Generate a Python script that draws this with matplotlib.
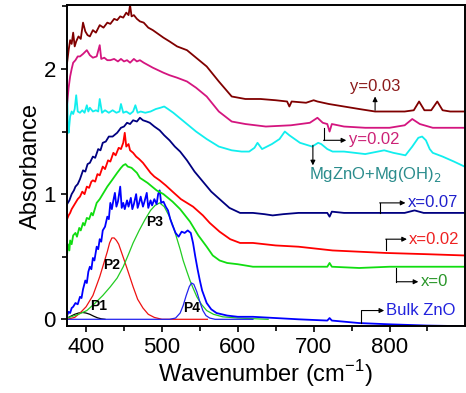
import matplotlib
matplotlib.use("Agg")
import matplotlib.pyplot as plt
from matplotlib.ticker import MultipleLocator

plt.rcParams['font.family'] = ['Liberation Sans', 'DejaVu Sans']

# ---- spectra (wavenumber, absorbance) ----
w_y003 = [375, 377, 379, 381, 383, 385, 387, 390, 393, 396, 399, 402, 405, 409, 413, 418, 423, 428, 432, 437,
          441, 445, 449, 453, 456, 458, 460, 463, 467, 471, 476, 482, 488, 495, 502, 510, 520, 533, 545, 559,
          575, 592, 610, 630, 650, 665, 668, 671, 690, 700, 705, 720, 740, 760, 781, 800, 820, 832, 839, 846,
          855, 863, 870, 880, 899]
a_y003 = [2.05, 2.15, 2.23, 2.20, 2.29, 2.18, 2.22, 2.26, 2.24, 2.37, 2.30, 2.27, 2.26, 2.31, 2.29, 2.35, 2.33, 2.37, 2.36, 2.40,
          2.39, 2.42, 2.41, 2.45, 2.43, 2.51, 2.42, 2.43, 2.40, 2.38, 2.37, 2.33, 2.31, 2.28, 2.25, 2.22, 2.18, 2.15, 2.09, 2.02,
          1.90, 1.78, 1.76, 1.76, 1.75, 1.74, 1.70, 1.74, 1.73, 1.75, 1.74, 1.72, 1.70, 1.68, 1.66, 1.66, 1.66, 1.67, 1.74, 1.67,
          1.67, 1.74, 1.67, 1.66, 1.66]

w_y002 = [375, 377, 379, 381, 383, 386, 389, 392, 396, 401, 405, 409, 414, 418, 420, 424, 428, 432, 437, 442,
          446, 450, 454, 458, 463, 467, 471, 476, 482, 488, 495, 502, 510, 520, 533, 545, 559, 575, 592, 610,
          637, 670, 695, 705, 712, 718, 721, 724, 740, 768, 800, 820, 830, 840, 857, 880, 899]
a_y002 = [1.72, 1.85, 1.94, 2.00, 2.05, 2.07, 2.10, 2.10, 2.12, 2.15, 2.11, 2.09, 2.10, 2.19, 2.08, 2.09, 2.07, 2.07, 2.08, 2.06,
          2.08, 2.06, 2.07, 2.05, 2.08, 2.06, 2.07, 2.05, 2.03, 2.01, 1.99, 1.97, 1.95, 1.93, 1.90, 1.85, 1.78, 1.66, 1.58, 1.56,
          1.54, 1.55, 1.57, 1.61, 1.57, 1.56, 1.50, 1.56, 1.54, 1.53, 1.53, 1.55, 1.60, 1.56, 1.53, 1.53, 1.53]

w_mg = [375, 376, 377, 379, 381, 383, 385, 387, 389, 392, 395, 398, 401, 403, 405, 409, 413, 416, 418, 421,
        425, 430, 435, 440, 444, 446, 449, 453, 458, 462, 465, 468, 472, 478, 485, 492, 498, 503, 508, 515,
        525, 535, 545, 559, 575, 592, 605, 615, 622, 626, 632, 645, 655, 662, 668, 682, 698, 706, 710, 718,
        725, 740, 768, 793, 805, 821, 830, 838, 843, 848, 853, 857, 870, 885, 899]
a_mg = [1.86, 1.55, 1.49, 1.62, 1.66, 1.64, 1.68, 1.79, 1.66, 1.65, 1.67, 1.65, 1.71, 1.66, 1.69, 1.66, 1.67, 1.66, 1.76, 1.65,
        1.67, 1.65, 1.67, 1.65, 1.66, 1.72, 1.65, 1.66, 1.64, 1.66, 1.71, 1.65, 1.66, 1.65, 1.66, 1.68, 1.69, 1.70, 1.68, 1.65,
        1.60, 1.55, 1.50, 1.44, 1.38, 1.35, 1.34, 1.34, 1.37, 1.41, 1.36, 1.40, 1.44, 1.50, 1.47, 1.41, 1.38, 1.41, 1.40, 1.36,
        1.34, 1.34, 1.32, 1.35, 1.33, 1.31, 1.38, 1.45, 1.46, 1.43, 1.36, 1.33, 1.30, 1.26, 1.22]

w_x007 = [375, 378, 381, 384, 386, 389, 392, 396, 399, 402, 405, 409, 412, 416, 419, 422, 426, 430, 435, 441,
          446, 450, 454, 458, 462, 467, 471, 475, 480, 484, 490, 497, 503, 510, 517, 524, 533, 543, 554, 565,
          576, 589, 603, 620, 635, 646, 660, 680, 700, 718, 721, 724, 740, 780, 820, 833, 845, 899]
a_x007 = [0.92, 0.95, 1.00, 1.03, 1.06, 1.08, 1.12, 1.19, 1.18, 1.24, 1.25, 1.30, 1.29, 1.36, 1.35, 1.41, 1.42, 1.46, 1.46, 1.49,
          1.53, 1.54, 1.57, 1.56, 1.59, 1.58, 1.61, 1.59, 1.58, 1.57, 1.54, 1.51, 1.47, 1.43, 1.38, 1.34, 1.27, 1.18, 1.10, 1.02,
          0.96, 0.89, 0.85, 0.85, 0.84, 0.83, 0.84, 0.85, 0.85, 0.85, 0.82, 0.86, 0.85, 0.85, 0.85, 0.87, 0.85, 0.85]

w_x002 = [375, 377, 379, 381, 383, 386, 389, 392, 395, 398, 401, 404, 407, 409, 412, 415, 418, 422, 425, 429,
          432, 436, 439, 443, 446, 449, 451, 453, 456, 458, 462, 466, 470, 475, 480, 485, 490, 497, 505, 514,
          525, 541, 554, 563, 576, 590, 603, 620, 650, 680, 725, 760, 795, 850, 899]
a_x002 = [0.80, 0.83, 0.85, 0.88, 0.90, 0.93, 0.96, 0.98, 1.02, 1.00, 1.06, 1.05, 1.10, 1.11, 1.10, 1.16, 1.15, 1.22, 1.20, 1.27,
          1.26, 1.33, 1.31, 1.37, 1.36, 1.41, 1.49, 1.38, 1.40, 1.35, 1.33, 1.30, 1.28, 1.25, 1.21, 1.17, 1.14, 1.11, 1.07, 1.02,
          0.96, 0.90, 0.83, 0.77, 0.70, 0.64, 0.61, 0.61, 0.59, 0.58, 0.55, 0.54, 0.53, 0.52, 0.51]

w_x0 = [375, 376, 378, 379, 381, 383, 386, 388, 391, 393, 396, 398, 401, 404, 407, 409, 412, 414, 418, 422,
        428, 434, 441, 446, 449, 452, 455, 460, 467, 471, 481, 493, 502, 514, 524, 537, 548, 559, 567, 576,
        586, 600, 620, 650, 700, 718, 721, 724, 760, 800, 850, 899]
a_x0 = [0.52, 0.60, 0.55, 0.63, 0.60, 0.67, 0.69, 0.66, 0.73, 0.71, 0.77, 0.75, 0.81, 0.80, 0.85, 0.83, 0.89, 0.93, 0.96, 1.00,
        1.06, 1.11, 1.17, 1.21, 1.23, 1.24, 1.22, 1.21, 1.17, 1.13, 1.09, 1.03, 1.00, 0.94, 0.88, 0.78, 0.67, 0.58, 0.51, 0.47,
        0.45, 0.44, 0.42, 0.42, 0.42, 0.42, 0.45, 0.42, 0.41, 0.42, 0.42, 0.42]

w_bulk = [375, 377, 379, 381, 383, 386, 389, 392, 394, 396, 399, 401, 403, 405, 407, 409, 411, 414, 416, 418,
          420, 422, 425, 428, 430, 432, 434, 436, 438, 440, 442, 445, 447, 449, 451, 454, 456, 459, 461, 463,
          466, 468, 470, 472, 475, 477, 480, 482, 485, 487, 490, 493, 495, 497, 499, 502, 505, 508, 511, 514,
          518, 522, 526, 530, 534, 538, 541, 544, 547, 550, 553, 559, 565, 572, 586, 600, 620, 650, 680, 718,
          721, 724, 760, 800, 850, 899]
a_bulk = [0.03, 0.06, 0.05, 0.09, 0.10, 0.13, 0.12, 0.18, 0.17, 0.24, 0.31, 0.29, 0.38, 0.42, 0.40, 0.49, 0.47, 0.58, 0.56, 0.64,
          0.62, 0.71, 0.74, 0.82, 0.80, 0.93, 0.88, 0.95, 1.01, 0.90, 0.94, 1.06, 0.89, 0.93, 0.88, 0.95, 0.90, 0.97, 0.88, 0.92,
          1.00, 0.89, 0.93, 0.98, 0.90, 0.94, 1.01, 0.89, 0.95, 0.91, 0.96, 0.92, 1.00, 1.03, 0.93, 0.94, 0.90, 0.87, 0.80, 0.75,
          0.69, 0.66, 0.70, 0.69, 0.71, 0.69, 0.61, 0.50, 0.40, 0.31, 0.23, 0.13, 0.08, 0.05, 0.03, 0.02, 0.02, 0.01, 0.00, -0.01,
          0.01, -0.01, -0.03, -0.04, -0.05, -0.055]

# ---- fitted peaks of bulk ZnO ----
w_p1 = [375, 380, 385, 390, 395, 400, 405, 410, 415, 420, 425]
a_p1 = [0.01, 0.025, 0.04, 0.05, 0.055, 0.05, 0.04, 0.025, 0.012, 0.004, 0.0]

w_p2 = [375, 385, 392, 400, 409, 418, 424, 428, 431, 434, 437, 440, 443, 447, 451, 456, 462, 468, 475, 482, 490, 500, 560]
a_p2 = [0.0, 0.015, 0.05, 0.10, 0.19, 0.34, 0.46, 0.54, 0.61, 0.65, 0.65, 0.63, 0.60, 0.53, 0.46, 0.37, 0.26, 0.16, 0.09, 0.04,
        0.015, 0.0, 0.0]

w_p3 = [375, 390, 401, 412, 422, 432, 441, 449, 456, 462, 470, 478, 485, 491, 497, 503, 510, 515, 519, 524,
        528, 533, 537, 541, 546, 552, 559, 568, 580, 600, 640]
a_p3 = [0.01, 0.04, 0.07, 0.13, 0.19, 0.26, 0.33, 0.42, 0.52, 0.61, 0.71, 0.80, 0.87, 0.91, 0.93, 0.90, 0.82, 0.74, 0.66, 0.56,
        0.47, 0.38, 0.31, 0.25, 0.18, 0.12, 0.07, 0.04, 0.02, 0.01, 0.0]

w_p4 = [375, 510, 518, 524, 528, 532, 536, 539, 542, 546, 550, 554, 558, 563, 570, 620]
a_p4 = [0.0, 0.0, 0.01, 0.05, 0.11, 0.19, 0.26, 0.29, 0.28, 0.22, 0.14, 0.07, 0.03, 0.01, 0.0, 0.0]

peak_names = ['P1', 'P2', 'P3', 'P4']
peak_label_pos = [(416, 0.11), (434, 0.43), (491, 0.78), (539, 0.09)]

fig = plt.figure(figsize=(4.66, 3.93), dpi=100)
ax = fig.add_axes([0.144, 0.170, 0.853, 0.817])

lw = 1.3
ax.plot(w_p1, a_p1, color='black', lw=0.9)
ax.plot(w_p2, a_p2, color='#ee1111', lw=0.9)
ax.plot(w_p3, a_p3, color='#22cc22', lw=0.9)
ax.plot(w_p4, a_p4, color='#2222ee', lw=0.9)

ax.plot(w_bulk, a_bulk, color='#0000ff', lw=lw)
ax.plot(w_x0, a_x0, color='#11dd11', lw=lw)
ax.plot(w_x002, a_x002, color='#ff0000', lw=lw)
ax.plot(w_x007, a_x007, color='#000080', lw=lw)
ax.plot(w_mg, a_mg, color='#11eeee', lw=lw)
ax.plot(w_y002, a_y002, color='#d4157f', lw=lw)
ax.plot(w_y003, a_y003, color='#800000', lw=lw)

for name, (px, py) in zip(peak_names, peak_label_pos):
    ax.text(px, py, name, fontsize=10, fontweight='bold', ha='center', va='center')

# ---- labels with elbow arrows ----
def elbow(path):
    xs = [p[0] for p in path]
    ys = [p[1] for p in path]
    ax.plot(xs[:-1], ys[:-1], color='black', lw=0.8)
    ax.annotate('', xy=path[-1], xytext=path[-2],
                arrowprops=dict(arrowstyle='-|>', color='black', lw=0.8,
                                mutation_scale=7, shrinkA=0, shrinkB=0))

elbow([(781, 1.67), (781, 1.78)])
ax.text(781, 1.86, 'y=0.03', color='#8b1a1a', fontsize=12, ha='center', va='center')

elbow([(713, 1.53), (713, 1.43), (743, 1.43)])
ax.text(747, 1.44, 'y=0.02', color='#cc2277', fontsize=12, ha='left', va='center')

elbow([(699, 1.39), (699, 1.23)])
ax.text(781, 1.16, 'MgZnO+Mg(OH)$_2$', color='#2a8c8c', fontsize=12, ha='center', va='center')

elbow([(787, 0.85), (787, 0.93), (821, 0.93)])
ax.text(824, 0.93, 'x=0.07', color='#2020cc', fontsize=12, ha='left', va='center')

elbow([(795, 0.55), (795, 0.64), (823, 0.64)])
ax.text(826, 0.64, 'x=0.02', color='#ee2222', fontsize=12, ha='left', va='center')

elbow([(809, 0.41), (809, 0.30), (838, 0.30)])
ax.text(841, 0.30, 'x=0', color='#2a962a', fontsize=12, ha='left', va='center')

elbow([(763, -0.03), (763, 0.07), (793, 0.07)])
ax.text(796, 0.07, 'Bulk ZnO', color='#2222dd', fontsize=12, ha='left', va='center')

ax.set_xlim(375, 899)
ax.set_ylim(-0.055, 2.51)
ax.xaxis.set_major_locator(MultipleLocator(100))
ax.xaxis.set_minor_locator(MultipleLocator(50))
ax.yaxis.set_major_locator(MultipleLocator(1))
ax.yaxis.set_minor_locator(MultipleLocator(0.5))
ax.tick_params(which='both', direction='out', width=1.2, labelsize=16, top=False, right=False)
ax.tick_params(which='major', length=4.5)
ax.tick_params(which='minor', length=3.5)
for s in ax.spines.values():
    s.set_linewidth(1.4)

ax.set_xlabel('Wavenumber (cm$^{\\mathregular{-1}}$)', fontsize=17, labelpad=0)
ax.set_ylabel('Absorbance', fontsize=17, labelpad=1)

fig.savefig('out.png', dpi=100)
